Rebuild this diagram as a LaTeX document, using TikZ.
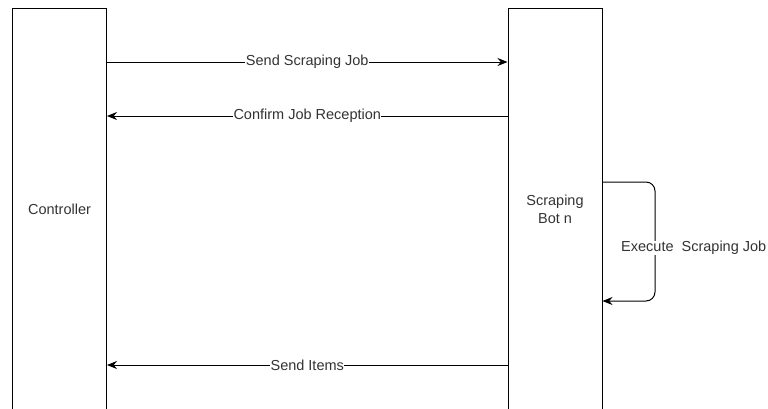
\documentclass[tikz,border=0pt]{standalone}
\usepackage{fontspec}
\setmainfont{Liberation Sans}
\usetikzlibrary{arrows.meta}
\definecolor{textgray}{rgb}{0.2,0.2,0.2}

\begin{document}
\begin{tikzpicture}[x=1pt,y=-1pt,
  lifeline/.style={draw,line width=1pt,minimum width=94pt,minimum height=420pt,anchor=north,inner sep=0pt,align=center,text=textgray},
  msg/.style={line width=1pt,-{Stealth[length=10pt,width=8pt]}},
  lbl/.style={fill=white,inner sep=0.5pt,text=textgray}]
\useasboundingbox (0,0) rectangle (768,408);
\fontsize{14.5}{18}\selectfont

%% lifelines
\node [lifeline] (ctrl) at (59.5,7.5) {};
\node [lifeline] (bot) at (555,7.5) {};
\node [text=textgray] (ctrltxt) at (59.5,209) {Controller};
\node [text=textgray,align=center] (bottxt) at (555,209) {Scraping\\Bot n};

%% messages
\draw [msg] (ctrl.east |- 0,62) -- node[lbl] {Send Scraping Job} (bot.west |- 0,62);
\draw [msg] (bot.west |- 0,116) -- node[lbl] {Confirm Job Reception} (ctrl.east |- 0,116);
\draw [msg] (bot.west |- 0,365) -- node[lbl] {Send Items} (ctrl.east |- 0,365);

% self call
\coordinate (loopr) at (655,0);
\draw [msg,rounded corners=9pt] (bot.east |- 0,182) -- (loopr |- 0,182) -- (loopr |- 0,301) -- (bot.east |- 0,301);
\node [lbl,anchor=west] (looplbl) at (620.5,248) {Execute\ \ Scraping Job};

\end{tikzpicture}
\end{document}
